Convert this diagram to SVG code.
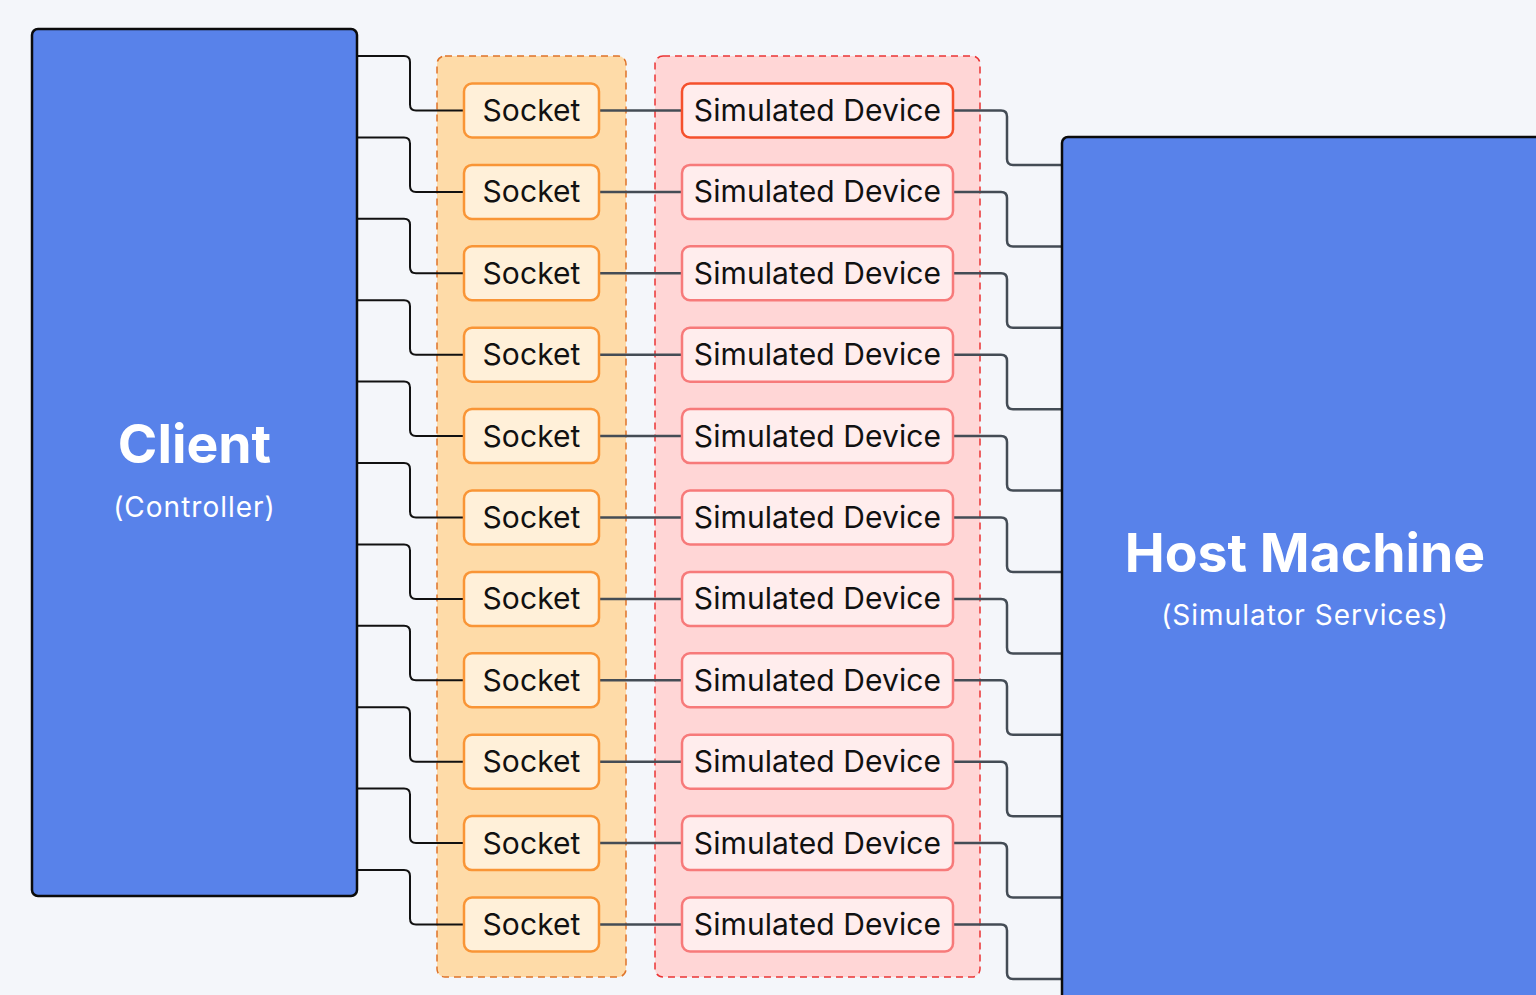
<svg xmlns="http://www.w3.org/2000/svg" width="1536" height="995" viewBox="0 0 1536 995">
  <style>
    text { font-family: Inter, "Noto Sans", "Liberation Sans", sans-serif; }
    .big { fill: #5882ea; stroke: #0b0b0b; stroke-width: 2.5; }
    .title { fill: #ffffff; font-weight: 700; font-size: 53.5px; text-anchor: middle; }
    .sub { fill: #ffffff; font-size: 28px; letter-spacing: 1px; text-anchor: middle; }
    .sock { fill: #fff0d9; stroke: #f99536; stroke-width: 2.5; }
    .dev { fill: #ffeded; stroke: #f77a7a; stroke-width: 2.5; }
    .dev.hot { stroke: #f5502c; }
    .label { fill: #111111; font-size: 30px; letter-spacing: 0.1px; text-anchor: middle; }
    .c1 { fill: none; stroke: #111111; stroke-width: 2; }
    .c2 { fill: none; stroke: #444c55; stroke-width: 2.5; }
  </style>
  <defs>
    <!-- one socket cell, placed per row -->
    <g id="sockNode">
      <rect class="sock" x="464" y="-27" width="135" height="54" rx="8"/>
      <text class="label" x="531.5" y="10.5">Socket</text>
    </g>
    <!-- client → socket elbow -->
    <path id="cLink" class="c1" d="M357 -54.5 H404 Q410 -54.5 410 -48.5 V-6 Q410 0 416 0 H464"/>
    <!-- socket → device straight -->
    <path id="sLink" class="c2" d="M599 0 H682"/>
    <!-- device → host elbow -->
    <path id="hLink" class="c2" d="M953 0 H1001 Q1007 0 1007 6 V48.5 Q1007 54.5 1013 54.5 H1062"/>
  </defs>

  <rect width="1536" height="995" fill="#f4f6fa"/>

  <!-- group containers -->
  <rect x="437" y="56" width="189" height="921" rx="8" fill="#fedba8" stroke="#de7328" stroke-width="1.5" stroke-dasharray="7 5"/>
  <rect x="655" y="56" width="325" height="921" rx="8" fill="#ffd6d6" stroke="#ea3434" stroke-width="1.5" stroke-dasharray="7 5"/>

  <!-- connectors -->
  <g id="connectors">
    <use href="#cLink" y="110.5"/><use href="#sLink" y="110.5"/><use href="#hLink" y="110.5"/>
    <use href="#cLink" y="191.9"/><use href="#sLink" y="191.9"/><use href="#hLink" y="191.9"/>
    <use href="#cLink" y="273.3"/><use href="#sLink" y="273.3"/><use href="#hLink" y="273.3"/>
    <use href="#cLink" y="354.7"/><use href="#sLink" y="354.7"/><use href="#hLink" y="354.7"/>
    <use href="#cLink" y="436.1"/><use href="#sLink" y="436.1"/><use href="#hLink" y="436.1"/>
    <use href="#cLink" y="517.5"/><use href="#sLink" y="517.5"/><use href="#hLink" y="517.5"/>
    <use href="#cLink" y="598.9"/><use href="#sLink" y="598.9"/><use href="#hLink" y="598.9"/>
    <use href="#cLink" y="680.3"/><use href="#sLink" y="680.3"/><use href="#hLink" y="680.3"/>
    <use href="#cLink" y="761.7"/><use href="#sLink" y="761.7"/><use href="#hLink" y="761.7"/>
    <use href="#cLink" y="843.1"/><use href="#sLink" y="843.1"/><use href="#hLink" y="843.1"/>
    <use href="#cLink" y="924.5"/><use href="#sLink" y="924.5"/><use href="#hLink" y="924.5"/>
  </g>

  <!-- client -->
  <g id="client">
    <rect class="big" x="32" y="29" width="325" height="867" rx="6"/>
    <text class="title" x="194.5" y="463">Client</text>
    <text class="sub" x="194.5" y="517">(Controller)</text>
  </g>

  <!-- host -->
  <g id="host">
    <rect class="big" x="1062" y="137" width="500" height="880" rx="6"/>
    <text class="title" x="1305" y="572">Host Machine</text>
    <text class="sub" x="1305" y="625">(Simulator Services)</text>
  </g>

  <!-- sockets -->
  <g id="socket-1"><use href="#sockNode" y="110.5"/></g>
  <g id="socket-2"><use href="#sockNode" y="191.9"/></g>
  <g id="socket-3"><use href="#sockNode" y="273.3"/></g>
  <g id="socket-4"><use href="#sockNode" y="354.7"/></g>
  <g id="socket-5"><use href="#sockNode" y="436.1"/></g>
  <g id="socket-6"><use href="#sockNode" y="517.5"/></g>
  <g id="socket-7"><use href="#sockNode" y="598.9"/></g>
  <g id="socket-8"><use href="#sockNode" y="680.3"/></g>
  <g id="socket-9"><use href="#sockNode" y="761.7"/></g>
  <g id="socket-10"><use href="#sockNode" y="843.1"/></g>
  <g id="socket-11"><use href="#sockNode" y="924.5"/></g>

  <!-- simulated devices -->
  <g id="device-1"><rect class="dev hot" x="682" y="83.5" width="271" height="54" rx="8"/><text class="label" x="817.5" y="121">Simulated Device</text></g>
  <g id="device-2"><rect class="dev" x="682" y="164.9" width="271" height="54" rx="8"/><text class="label" x="817.5" y="202.4">Simulated Device</text></g>
  <g id="device-3"><rect class="dev" x="682" y="246.3" width="271" height="54" rx="8"/><text class="label" x="817.5" y="283.8">Simulated Device</text></g>
  <g id="device-4"><rect class="dev" x="682" y="327.7" width="271" height="54" rx="8"/><text class="label" x="817.5" y="365.2">Simulated Device</text></g>
  <g id="device-5"><rect class="dev" x="682" y="409.1" width="271" height="54" rx="8"/><text class="label" x="817.5" y="446.6">Simulated Device</text></g>
  <g id="device-6"><rect class="dev" x="682" y="490.5" width="271" height="54" rx="8"/><text class="label" x="817.5" y="528">Simulated Device</text></g>
  <g id="device-7"><rect class="dev" x="682" y="571.9" width="271" height="54" rx="8"/><text class="label" x="817.5" y="609.4">Simulated Device</text></g>
  <g id="device-8"><rect class="dev" x="682" y="653.3" width="271" height="54" rx="8"/><text class="label" x="817.5" y="690.8">Simulated Device</text></g>
  <g id="device-9"><rect class="dev" x="682" y="734.7" width="271" height="54" rx="8"/><text class="label" x="817.5" y="772.2">Simulated Device</text></g>
  <g id="device-10"><rect class="dev" x="682" y="816.1" width="271" height="54" rx="8"/><text class="label" x="817.5" y="853.6">Simulated Device</text></g>
  <g id="device-11"><rect class="dev" x="682" y="897.5" width="271" height="54" rx="8"/><text class="label" x="817.5" y="935">Simulated Device</text></g>
</svg>
